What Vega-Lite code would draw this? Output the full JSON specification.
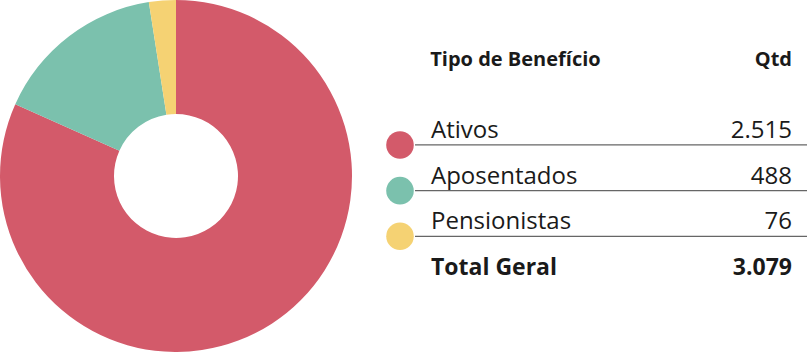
{
  "$schema": "https://vega.github.io/schema/vega-lite/v6.json",
  "padding": 0,
  "spacing": 0,
  "background": "white",
  "config": {"view": {"stroke": null}},
  "datasets": {
    "beneficios": [
      {"tipo": "Ativos", "qtd": 2515, "label": "2.515", "ordem": 1},
      {"tipo": "Aposentados", "qtd": 488, "label": "488", "ordem": 2},
      {"tipo": "Pensionistas", "qtd": 76, "label": "76", "ordem": 3}
    ],
    "total": [
      {"tipo": "Total Geral", "label": "3.079", "ordem": 4}
    ],
    "cabecalho": [
      {"col1": "Tipo de Benefício", "col2": "Qtd", "ordem": 0}
    ]
  },
  "hconcat": [
    {
      "width": 352,
      "height": 352,
      "data": {"name": "beneficios"},
      "mark": {"type": "arc", "outerRadius": 176, "innerRadius": 62, "stroke": null},
      "encoding": {
        "theta": {"field": "qtd", "type": "quantitative", "stack": true},
        "order": {"field": "ordem", "type": "quantitative"},
        "color": {
          "field": "tipo", "type": "nominal", "legend": null,
          "scale": {"domain": ["Ativos", "Aposentados", "Pensionistas"], "range": ["#D35A6A", "#7BC1AD", "#F5D273"]}
        }
      }
    },
    {
      "width": 455,
      "height": 352,
      "resolve": {"scale": {"color": "independent"}},
      "layer": [
        {
          "data": {"name": "cabecalho"},
          "mark": {"type": "text", "align": "left", "baseline": "alphabetic", "font": "Open Sans", "fontWeight": "bold", "fontSize": 20, "color": "#1a1a1a", "dy": -26},
          "encoding": {
            "x": {"datum": 17.2, "type": "quantitative", "scale": {"domain": [0, 100], "nice": false, "zero": false}, "axis": null},
            "y": {"field": "ordem", "type": "quantitative", "scale": {"domain": [-2.02, 5.686], "reverse": true, "nice": false, "zero": false}, "axis": null},
            "text": {"field": "col1"}
          }
        },
        {
          "data": {"name": "cabecalho"},
          "mark": {"type": "text", "align": "right", "baseline": "alphabetic", "font": "Open Sans", "fontWeight": "bold", "fontSize": 20, "color": "#1a1a1a", "dy": -26},
          "encoding": {
            "x": {"datum": 96.7, "type": "quantitative"},
            "y": {"field": "ordem", "type": "quantitative"},
            "text": {"field": "col2"}
          }
        },
        {
          "data": {"name": "beneficios"},
          "mark": {"type": "rule", "stroke": "#666666", "strokeWidth": 1.3, "yOffset": 7},
          "encoding": {
            "x": {"datum": 13.85, "type": "quantitative"},
            "x2": {"datum": 100},
            "y": {"field": "ordem", "type": "quantitative"}
          }
        },
        {
          "data": {"name": "beneficios"},
          "mark": {"type": "point", "shape": "circle", "filled": true, "opacity": 1, "size": 760, "yOffset": 7},
          "encoding": {
            "x": {"datum": 10.55, "type": "quantitative"},
            "y": {"field": "ordem", "type": "quantitative"},
            "color": {
              "field": "tipo", "type": "nominal", "legend": null,
              "scale": {"domain": ["Ativos", "Aposentados", "Pensionistas"], "range": ["#D35A6A", "#7BC1AD", "#F5D273"]}
            }
          }
        },
        {
          "data": {"name": "beneficios"},
          "mark": {"type": "text", "align": "left", "baseline": "alphabetic", "font": "Open Sans", "fontWeight": "normal", "fontSize": 24, "color": "#1a1a1a"},
          "encoding": {
            "x": {"datum": 17.36, "type": "quantitative"},
            "y": {"field": "ordem", "type": "quantitative"},
            "text": {"field": "tipo"}
          }
        },
        {
          "data": {"name": "beneficios"},
          "mark": {"type": "text", "align": "right", "baseline": "alphabetic", "font": "Open Sans", "fontWeight": "normal", "fontSize": 24, "color": "#1a1a1a"},
          "encoding": {
            "x": {"datum": 96.7, "type": "quantitative"},
            "y": {"field": "ordem", "type": "quantitative"},
            "text": {"field": "label"}
          }
        },
        {
          "data": {"name": "total"},
          "mark": {"type": "text", "align": "left", "baseline": "alphabetic", "font": "Open Sans", "fontWeight": "bold", "fontSize": 23, "color": "#1a1a1a"},
          "encoding": {
            "x": {"datum": 17.36, "type": "quantitative"},
            "y": {"field": "ordem", "type": "quantitative"},
            "text": {"field": "tipo"}
          }
        },
        {
          "data": {"name": "total"},
          "mark": {"type": "text", "align": "right", "baseline": "alphabetic", "font": "Open Sans", "fontWeight": "bold", "fontSize": 23, "color": "#1a1a1a"},
          "encoding": {
            "x": {"datum": 96.7, "type": "quantitative"},
            "y": {"field": "ordem", "type": "quantitative"},
            "text": {"field": "label"}
          }
        }
      ]
    }
  ]
}
